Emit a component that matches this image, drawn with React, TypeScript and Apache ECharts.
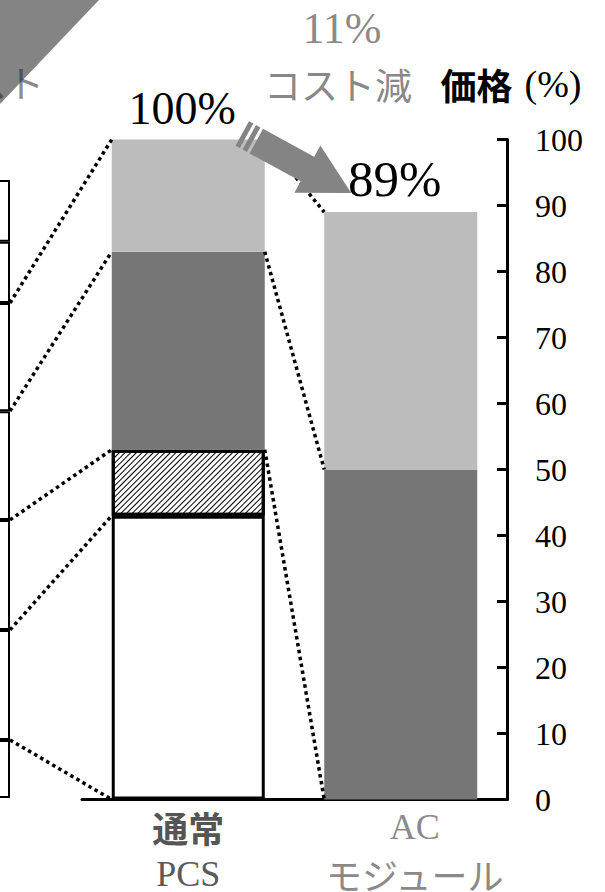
import React, { useEffect, useRef } from 'react';
import * as echarts from 'echarts';

// Price breakdown, % of a conventional PCS
const categories = ['通常\nPCS', 'AC\nモジュール'];
const baseSeg: (number | null)[] = [43, null]; // outlined white block
const hatchSeg: (number | null)[] = [10, null]; // hatched block
const darkSeg: (number | null)[] = [30, 50];
const lightSeg: (number | null)[] = [17, 39];
const yMin = 0;
const yMax = 100;
const yStep = 10;
const reductionPct = '11%';
const reductionText = 'コスト減';
const axisTitle = '価格';
const axisUnit = '(%)';

// Neighbouring stack, clipped at the left edge
const sideSegments = [9.4, 17.8, 17.8, 17.6, 17.5, 9.9, 10.0];

const SERIF = '"Liberation Serif", "Times New Roman", serif';
const SANS = '"Noto Sans CJK JP", "Noto Sans", sans-serif';
const BAR_W = 153;
const SIDE_W = 110;
const TOTAL_FONT = [46, 51];

const cumulative = (arr: (number | null)[]) => {
  const out = [0];
  arr.forEach((v) => out.push(out[out.length - 1] + (v ?? 0)));
  return out;
};

export default function App() {
  const ref = useRef<HTMLDivElement>(null);

  useEffect(() => {
    if (!ref.current) return;
    const chart = echarts.init(ref.current, null, { renderer: 'svg' });

    const outline = { color: '#fff', borderColor: '#000', borderWidth: 3 };
    const totals = categories.map((_, i) =>
      [baseSeg, hatchSeg, darkSeg, lightSeg].reduce((s, a) => s + (a[i] ?? 0), 0)
    );
    const asData = (arr: (number | null)[]) => arr.map((v) => (v == null ? '-' : v));

    const option: any = {
      animation: false,
      grid: [
        { left: 82, right: 98, top: 139.5, bottom: 92.5, outerBoundsMode: 'none' },
        { left: 10 - SIDE_W, width: SIDE_W, top: 180, bottom: 94, outerBoundsMode: 'none' },
      ],
      xAxis: [
        {
          type: 'category',
          gridIndex: 0,
          data: categories,
          axisLine: { lineStyle: { color: '#000', width: 3 } },
          axisTick: { show: false },
          axisLabel: {
            margin: 4,
            formatter: (_v: string, i: number) =>
              i === 0 ? '{a|通常}\n{b|PCS}' : '{c|AC}\n{d|モジュール}',
            rich: {
              a: { fontFamily: SANS, fontWeight: 'bold', fontSize: 36, color: '#555', lineHeight: 47 },
              b: { fontFamily: SERIF, fontSize: 36, color: '#5a5a5a', lineHeight: 47 },
              c: { fontFamily: SERIF, fontSize: 36, color: '#8a8a8a', lineHeight: 47, padding: [0, 0, 0, 28] },
              d: { fontFamily: SANS, fontSize: 36, color: '#8a8a8a', lineHeight: 47, padding: [0, 0, 0, 28] },
            },
          },
        },
        { type: 'category', gridIndex: 1, data: ['side'], show: false },
      ],
      yAxis: [
        {
          type: 'value',
          gridIndex: 0,
          position: 'right',
          min: yMin,
          max: yMax,
          interval: yStep,
          axisLine: { show: true, lineStyle: { color: '#000', width: 3 } },
          axisTick: { show: true, inside: true, length: 10, lineStyle: { color: '#000', width: 3 } },
          splitLine: { show: false },
          axisLabel: {
            margin: 28,
            align: 'left',
            fontFamily: SERIF,
            fontSize: 32,
            color: '#000',
          },
        },
        { type: 'value', gridIndex: 1, min: 0, max: 100, show: false },
      ],
      series: [
        ...sideSegments.map((v) => ({
          type: 'bar',
          xAxisIndex: 1,
          yAxisIndex: 1,
          stack: 'side',
          barWidth: '100%',
          data: [v],
          itemStyle: { color: '#fff', borderColor: '#000', borderWidth: 2 },
        })),
        {
          name: 'base',
          type: 'bar',
          stack: 'price',
          barWidth: BAR_W,
          data: asData(baseSeg),
          itemStyle: outline,
        },
        {
          name: 'hatch',
          type: 'bar',
          stack: 'price',
          barWidth: BAR_W,
          data: asData(hatchSeg),
          itemStyle: {
            ...outline,
            decal: {
              symbol: 'rect',
              symbolSize: 1,
              color: '#000',
              backgroundColor: '#fff',
              dashArrayX: [1, 0],
              dashArrayY: [1, 3],
              rotation: -Math.PI / 4,
            },
          },
        },
        {
          name: 'dark',
          type: 'bar',
          stack: 'price',
          barWidth: BAR_W,
          data: asData(darkSeg),
          itemStyle: { color: '#767676' },
        },
        {
          name: 'light',
          type: 'bar',
          stack: 'price',
          barWidth: BAR_W,
          data: lightSeg.map((v, i) => ({
            value: v == null ? '-' : v,
            label: { fontSize: TOTAL_FONT[i] },
          })),
          itemStyle: { color: '#bcbcbc' },
          label: {
            show: true,
            position: 'top',
            distance: 8,
            offset: [-6, 0],
            formatter: (p: any) => `${totals[p.dataIndex]}%`,
            fontFamily: SERIF,
            fontSize: 46,
            color: '#000',
          },
        },
      ],
    };

    chart.setOption(option);

    // Connectors, arrow and annotations positioned from the axes
    const px = (gi: number, cat: number, v: number) =>
      chart.convertToPixel({ xAxisIndex: gi, yAxisIndex: gi }, [cat, v]) as number[];

    const pcsBounds = cumulative([baseSeg[0], hatchSeg[0], darkSeg[0], lightSeg[0]]);
    const acBounds = cumulative([darkSeg[1], lightSeg[1]]);
    const sideBounds = cumulative(sideSegments);

    const pcsX = px(0, 0, 0)[0];
    const acX = px(0, 1, 0)[0];
    const pcsL = pcsX - BAR_W / 2;
    const pcsR = pcsX + BAR_W / 2;
    const acL = acX - BAR_W / 2;
    const sideR = px(1, 0, 0)[0] + SIDE_W / 2;
    const yOf = (v: number) => px(0, 0, v)[1];
    const ySide = (v: number) => px(1, 0, v)[1];

    const dotted = { stroke: '#000', lineWidth: 3.5, lineDash: [3.5, 3.5] };
    const graphics: any[] = [];

    // left: neighbouring stack -> 通常 PCS
    for (let k = 0; k < pcsBounds.length; k++) {
      graphics.push({
        type: 'line',
        z: 5,
        shape: { x1: sideR, y1: ySide(sideBounds[k + 1]), x2: pcsL, y2: yOf(pcsBounds[k]) },
        style: dotted,
      });
    }
    // right: 通常 PCS -> AC モジュール
    const rightLinks = [
      [pcsBounds[4], acBounds[2]],
      [pcsBounds[3], acBounds[1]],
      [pcsBounds[2], acBounds[0]],
    ];
    rightLinks.forEach(([a, b]) => {
      graphics.push({
        type: 'line',
        z: 5,
        shape: { x1: pcsR, y1: yOf(a), x2: acL, y2: yOf(b) },
        style: dotted,
      });
    });

    // reduction arrow from PCS top to AC module top
    const tip = [acL + 27, yOf(acBounds[2]) - 19];
    const tail = [pcsR - 26, yOf(pcsBounds[4]) - 8];
    const dx = tip[0] - tail[0];
    const dy = tip[1] - tail[1];
    const len = Math.hypot(dx, dy);
    const u = [dx / len, dy / len];
    const n = [-u[1], u[0]];
    const P = (t: number, s: number) => [tip[0] - t * u[0] + s * n[0], tip[1] - t * u[1] + s * n[1]];
    const arrowFill = { fill: '#848484' };
    const band = (t0: number, t1: number, hw: number) => ({
      type: 'polygon',
      z: 20,
      shape: { points: [P(t0, hw), P(t1, hw), P(t1, -hw), P(t0, -hw)] },
      style: arrowFill,
    });
    graphics.push(
      { type: 'polygon', z: 20, shape: { points: [P(0, 0), P(50, 27), P(50, -27)] }, style: arrowFill },
      band(49, len - 20, 14),
      band(len - 17, len - 12, 14),
      band(len - 9, len - 4, 14)
    );

    // neighbouring panel's caption and arrow, clipped at the edge
    graphics.push(
      {
        type: 'text',
        z: 1,
        x: 44,
        y: 82,
        style: { text: 'コスト', fontFamily: SANS, fontSize: 37, fill: '#8a8a8a', align: 'right', verticalAlign: 'middle' },
      },
      {
        type: 'polygon',
        z: 2,
        shape: { points: [[0, 0], [99, 0], [0, 104]] },
        style: { fill: 'rgba(34,34,34,0.556)' },
      }
    );

    // reduction caption
    graphics.push(
      {
        type: 'text',
        z: 20,
        x: 342,
        y: 28,
        style: { text: reductionPct, fontFamily: SERIF, fontSize: 44, fill: '#8a8a8a', align: 'center', verticalAlign: 'middle' },
      },
      {
        type: 'text',
        z: 20,
        x: 338,
        y: 84,
        style: { text: reductionText, fontFamily: SANS, fontSize: 37, fill: '#888', align: 'center', verticalAlign: 'middle' },
      }
    );

    // axis title above the value axis
    const axisX = acX + (acX - pcsX) / 2;
    graphics.push({
      type: 'text',
      z: 20,
      x: axisX + 4,
      y: yOf(yMax) - 56,
      style: {
        text: `{a|${axisTitle}}{b|${axisUnit}}`,
        align: 'center',
        verticalAlign: 'middle',
        rich: {
          a: { fontFamily: SANS, fontWeight: 'bold', fontSize: 36, fill: '#000' },
          b: { fontFamily: SERIF, fontSize: 38, fill: '#000', padding: [0, 0, 0, 12] },
        },
      },
    });

    chart.setOption({ graphic: graphics });

    return () => chart.dispose();
  }, []);

  return <div ref={ref} style={{ width: 605, height: 892, position: 'absolute', left: 0, top: 0 }} />;
}
